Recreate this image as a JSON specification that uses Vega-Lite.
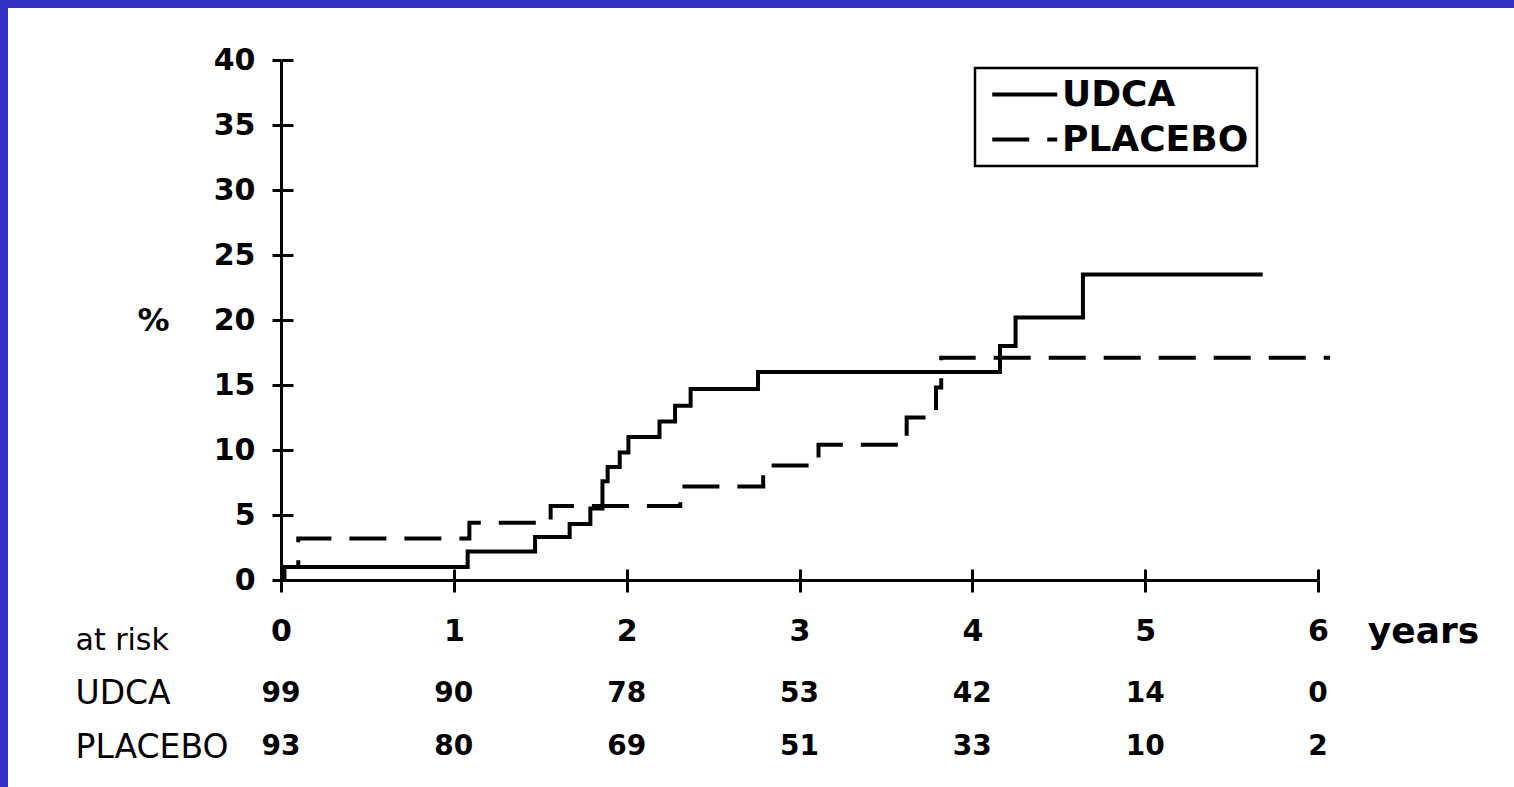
{
  "$schema": "https://vega.github.io/schema/vega-lite/v6.json",
  "width": 1506,
  "height": 779,
  "autosize": {"type": "none"},
  "padding": {"left": 8, "top": 8, "right": 0, "bottom": 0},
  "background": "#3431c9",
  "config": {
    "view": {"fill": "white", "stroke": null},
    "font": "DejaVu Sans",
    "legend": {"strokeWidth": 2.5}
  },
  "datasets": {
    "curves": [
      {"group": "UDCA", "year": 0, "pct": 0},
      {"group": "UDCA", "year": 0.01, "pct": 1.0},
      {"group": "UDCA", "year": 1.08, "pct": 2.2},
      {"group": "UDCA", "year": 1.47, "pct": 3.3},
      {"group": "UDCA", "year": 1.67, "pct": 4.3},
      {"group": "UDCA", "year": 1.79, "pct": 5.5},
      {"group": "UDCA", "year": 1.86, "pct": 7.6},
      {"group": "UDCA", "year": 1.89, "pct": 8.7},
      {"group": "UDCA", "year": 1.96, "pct": 9.8},
      {"group": "UDCA", "year": 2.01, "pct": 11.0},
      {"group": "UDCA", "year": 2.19, "pct": 12.2},
      {"group": "UDCA", "year": 2.28, "pct": 13.4},
      {"group": "UDCA", "year": 2.37, "pct": 14.7},
      {"group": "UDCA", "year": 2.76, "pct": 16.0},
      {"group": "UDCA", "year": 4.16, "pct": 18.0},
      {"group": "UDCA", "year": 4.25, "pct": 20.2},
      {"group": "UDCA", "year": 4.64, "pct": 23.5},
      {"group": "UDCA", "year": 5.68, "pct": 23.5},
      {"group": "PLACEBO", "year": 0, "pct": 0},
      {"group": "PLACEBO", "year": 0.02, "pct": 1.0},
      {"group": "PLACEBO", "year": 0.1, "pct": 3.2},
      {"group": "PLACEBO", "year": 1.09, "pct": 4.4},
      {"group": "PLACEBO", "year": 1.56, "pct": 5.7},
      {"group": "PLACEBO", "year": 2.31, "pct": 7.2},
      {"group": "PLACEBO", "year": 2.79, "pct": 8.8},
      {"group": "PLACEBO", "year": 3.11, "pct": 10.4},
      {"group": "PLACEBO", "year": 3.62, "pct": 12.5},
      {"group": "PLACEBO", "year": 3.79, "pct": 14.8},
      {"group": "PLACEBO", "year": 3.82, "pct": 17.1},
      {"group": "PLACEBO", "year": 6.07, "pct": 17.1}
    ],
    "risk": [
      {"row": "UDCA", "year": 0, "n": 99},
      {"row": "UDCA", "year": 1, "n": 90},
      {"row": "UDCA", "year": 2, "n": 78},
      {"row": "UDCA", "year": 3, "n": 53},
      {"row": "UDCA", "year": 4, "n": 42},
      {"row": "UDCA", "year": 5, "n": 14},
      {"row": "UDCA", "year": 6, "n": 0},
      {"row": "PLACEBO", "year": 0, "n": 93},
      {"row": "PLACEBO", "year": 1, "n": 80},
      {"row": "PLACEBO", "year": 2, "n": 69},
      {"row": "PLACEBO", "year": 3, "n": 51},
      {"row": "PLACEBO", "year": 4, "n": 33},
      {"row": "PLACEBO", "year": 5, "n": 10},
      {"row": "PLACEBO", "year": 6, "n": 2}
    ]
  },
  "layer": [
    {
      "layer": [
        {
          "data": {"name": "curves"},
          "transform": [{"filter": "datum.group == 'UDCA'"}],
          "mark": {"type": "line", "interpolate": "step-after", "strokeWidth": 4, "color": "black", "clip": false},
          "encoding": {
            "x": {
              "field": "year", "type": "quantitative",
              "scale": {"domain": [0, 6], "range": [273, 1310]},
              "axis": {
                "orient": "bottom", "offset": -207, "values": [0, 1, 2, 3, 4, 5, 6], "format": "d",
                "tickSize": 12, "tickWidth": 3, "tickColor": "black",
                "domainColor": "black", "domainWidth": 3,
                "labelFont": "DejaVu Sans", "labelFontWeight": "bold", "labelFontSize": 30, "labelColor": "black",
                "labelPadding": 48, "labelBaseline": "alphabetic", "labelFlush": false, "labelOverlap": false,
                "grid": false,
                "title": "years", "titleFont": "DejaVu Sans", "titleFontWeight": "bold", "titleFontSize": 36, "titleColor": "black",
                "titleX": 1415, "titleY": 62, "titleAlign": "center", "titleBaseline": "alphabetic", "titleAnchor": null
              }
            },
            "y": {
              "field": "pct", "type": "quantitative",
              "scale": {"domain": [0, 40], "range": [572, 52]},
              "axis": {
                "orient": "left", "offset": -273, "values": [0, 5, 10, 15, 20, 25, 30, 35, 40],
                "tickSize": 9, "tickWidth": 3, "tickColor": "black",
                "domainColor": "black", "domainWidth": 3,
                "labelFont": "DejaVu Sans", "labelFontWeight": "bold", "labelFontSize": 30, "labelColor": "black",
                "labelPadding": 17, "labelFlush": false, "labelOverlap": false, "labelBaseline": "middle",
                "grid": false,
                "title": "%", "titleFont": "DejaVu Sans", "titleFontWeight": "bold", "titleFontSize": 32, "titleColor": "black",
                "titleAngle": 0, "titleX": -128, "titleY": 322, "titleAlign": "center", "titleBaseline": "alphabetic", "titleAnchor": null
              }
            },
            "strokeDash": {
              "field": "group", "type": "nominal",
              "scale": {"domain": ["UDCA", "PLACEBO"], "range": [[1, 0], [37, 18]]},
              "legend": {
                "orient": "none", "legendX": 967, "legendY": 60, "title": null,
                "strokeColor": "black", "fillColor": "white",
                "padding": 8, "rowPadding": 8, "symbolOffset": 7,
                "symbolType": "M-1,0H3", "symbolSize": 1056, "symbolStrokeWidth": 4, "symbolStrokeColor": "black",
                "labelFont": "DejaVu Sans", "labelFontWeight": "bold", "labelFontSize": 36, "labelColor": "black",
                "labelOffset": 35, "labelLimit": 400
              }
            }
          }
        },
        {
          "data": {"name": "curves"},
          "transform": [{"filter": "datum.group == 'PLACEBO'"}],
          "mark": {"type": "line", "interpolate": "step-after", "strokeWidth": 4, "color": "black", "clip": false},
          "encoding": {
            "x": {
              "field": "year", "type": "quantitative",
              "axis": {
                "orient": "bottom", "offset": -207, "values": [0, 1, 2, 3, 4, 5, 6],
                "tickSize": -11, "tickWidth": 3, "tickColor": "black",
                "domain": false, "labels": false, "grid": false, "title": null
              }
            },
            "y": {
              "field": "pct", "type": "quantitative",
              "axis": {
                "orient": "left", "offset": -273, "values": [0, 5, 10, 15, 20, 25, 30, 35, 40],
                "tickSize": -12, "tickWidth": 3, "tickColor": "black",
                "domain": false, "labels": false, "grid": false, "title": null
              }
            },
            "strokeDash": {
              "field": "group", "type": "nominal",
              "scale": {"domain": ["UDCA", "PLACEBO"], "range": [[1, 0], [37, 18]]},
              "legend": {
                "orient": "none", "legendX": 967, "legendY": 60, "title": null,
                "strokeColor": "black", "fillColor": "white",
                "padding": 8, "rowPadding": 8, "symbolOffset": 7,
                "symbolType": "M-1,0H3", "symbolSize": 1056, "symbolStrokeWidth": 4, "symbolStrokeColor": "black",
                "labelFont": "DejaVu Sans", "labelFontWeight": "bold", "labelFontSize": 36, "labelColor": "black",
                "labelOffset": 35, "labelLimit": 400
              }
            }
          }
        }
      ],
      "resolve": {"axis": {"x": "independent", "y": "independent"}}
    },
    {
      "data": {"name": "risk"},
      "mark": {"type": "text", "font": "DejaVu Sans", "fontWeight": "bold", "fontSize": 28, "color": "black", "align": "center", "baseline": "middle"},
      "encoding": {
        "x": {"field": "year", "type": "quantitative", "axis": null},
        "y": {
          "field": "row", "type": "nominal",
          "scale": {"type": "point", "domain": ["at risk", "UDCA", "PLACEBO"], "range": [632, 739], "padding": 0},
          "axis": {
            "orient": "left", "offset": -67, "ticks": false, "tickSize": 0, "domain": false, "grid": false, "title": null,
            "labelAlign": "left", "labelPadding": 0, "labelBaseline": "middle",
            "labelFont": "DejaVu Sans", "labelColor": "black",
            "labelFontSize": {"condition": {"test": "datum.value == 'at risk'", "value": 30}, "value": 33}
          }
        },
        "text": {"field": "n", "type": "quantitative"}
      }
    }
  ],
  "resolve": {"scale": {"y": "independent"}, "axis": {"x": "independent", "y": "independent"}}
}
